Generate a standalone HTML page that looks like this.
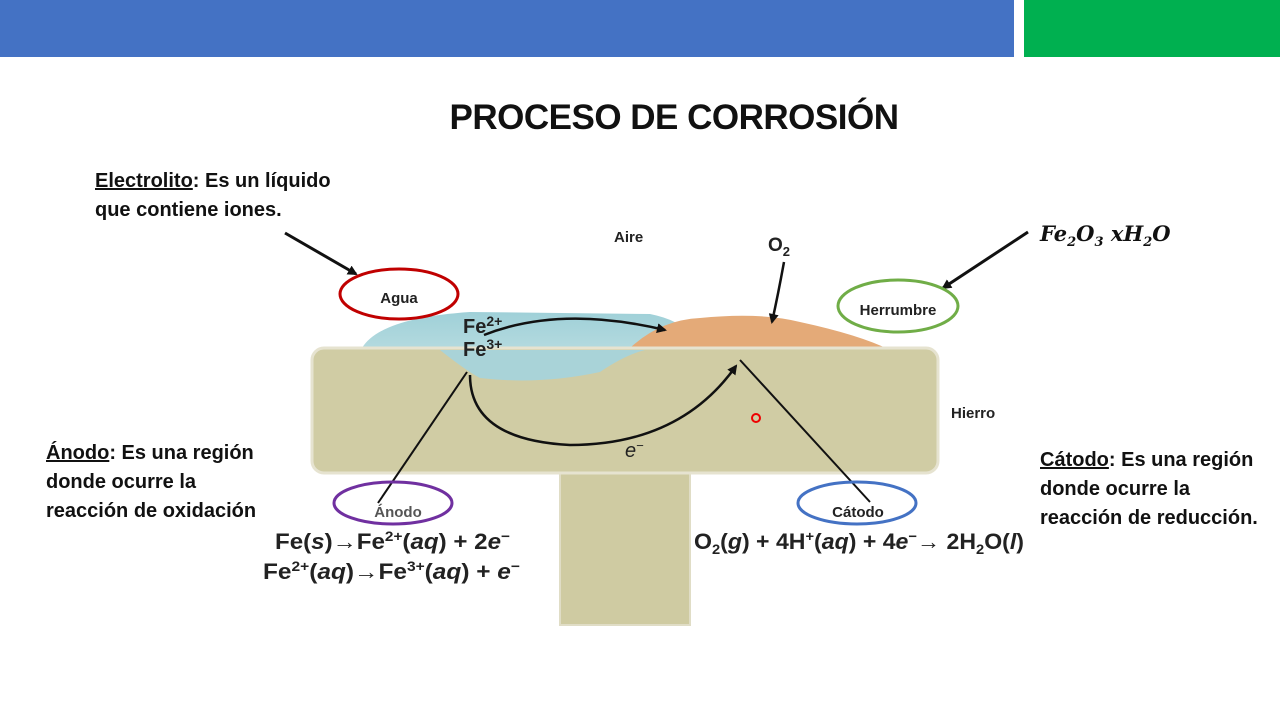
<!DOCTYPE html>
<html><head><meta charset="utf-8"><style>
body{margin:0;width:1280px;height:720px;background:#fff;overflow:hidden;position:relative;font-family:"Liberation Sans",sans-serif}
.t{position:absolute;font-weight:bold;color:#111}
</style></head><body>
<div style="position:absolute;left:0;top:0;width:1014px;height:57px;background:#4472C4"></div>
<div style="position:absolute;left:1024px;top:0;width:256px;height:57px;background:#00B050"></div>
<div class="t" style="left:0;width:1348px;top:98px;text-align:center;font-size:35px;letter-spacing:-0.5px">PROCESO DE CORROSIÓN</div>
<div class="t" style="left:95px;top:167px;font-size:20px;line-height:29px"><u>Electrolito</u>: Es un líquido<br>que contiene iones.</div>
<div class="t" style="left:46px;top:439px;font-size:20px;line-height:29px"><u>Ánodo</u>: Es una región<br>donde ocurre la<br>reacción de oxidación</div>
<div class="t" style="left:1040px;top:446px;font-size:20px;line-height:29px"><u>Cátodo</u>: Es una región<br>donde ocurre la<br>reacción de reducción.</div>
<div class="t" style="left:1040px;top:221px;font-size:21px;font-family:'DejaVu Serif',serif;font-style:italic">Fe<sub style="font-size:13px">2</sub>O<sub style="font-size:13px">3</sub> xH<sub style="font-size:13px">2</sub>O</div>
<svg width="1280" height="720" style="position:absolute;left:0;top:0" font-family="Liberation Sans, sans-serif">
<defs>
<marker id="a" markerWidth="10" markerHeight="10" refX="8" refY="5" orient="auto" markerUnits="userSpaceOnUse" viewBox="0 0 10 10"><path d="M0,0 L10,5 L0,10 z" fill="#111"/></marker>
<linearGradient id="w" x1="0" y1="0" x2="0" y2="1"><stop offset="0" stop-color="#9fd0d8"/><stop offset="1" stop-color="#c4e2e4"/></linearGradient>
</defs>
<rect x="560" y="460" width="130" height="165" fill="#cfcba2" stroke="#e0ddc6" stroke-width="2"/>
<path d="M362,348 Q380,318 470,312 L650,314 Q680,320 690,335 L655,360 Q600,380 520,378 Q450,370 362,348 z" fill="url(#w)"/>
<path d="M630,348 Q660,320 700,318 Q760,312 800,322 Q860,335 890,350 z" fill="#e4aa78"/>
<rect x="312" y="348" width="626" height="125" rx="12" fill="#d0ccA4" stroke="#e6e3d0" stroke-width="3"/>
<path d="M440,350 Q465,370 480,378 Q540,385 600,372 Q625,355 645,350 L440,350 z" fill="#a9d3d8"/>
<text x="614" y="242" font-size="15" font-weight="bold" fill="#222">Aire</text>
<text x="768" y="251" font-size="19" font-weight="bold" fill="#222">O<tspan font-size="13" dy="5">2</tspan></text>
<text x="951" y="418" font-size="15" font-weight="bold" fill="#222">Hierro</text>
<text x="463" y="333" font-size="20" font-weight="bold" fill="#222">Fe<tspan font-size="14" dy="-7">2+</tspan></text>
<text x="463" y="356" font-size="20" font-weight="bold" fill="#222">Fe<tspan font-size="14" dy="-7">3+</tspan></text>
<text x="625" y="457" font-size="20" font-style="italic" fill="#222">e<tspan font-size="13" dy="-7">−</tspan></text>
<path d="M484,335 Q560,305 665,330" fill="none" stroke="#111" stroke-width="2.5" marker-end="url(#a)"/>
<path d="M784,262 Q778,295 772,322" fill="none" stroke="#111" stroke-width="2.5" marker-end="url(#a)"/>
<path d="M470,375 Q470,440 570,445 Q680,445 736,366" fill="none" stroke="#111" stroke-width="2.5" marker-end="url(#a)"/>
<line x1="467" y1="372" x2="378" y2="503" stroke="#111" stroke-width="2"/>
<line x1="740" y1="360" x2="870" y2="502" stroke="#111" stroke-width="2"/>
<line x1="285" y1="233" x2="356" y2="274" stroke="#111" stroke-width="3" marker-end="url(#a)"/>
<line x1="1028" y1="232" x2="943" y2="288" stroke="#111" stroke-width="3" marker-end="url(#a)"/>
<ellipse cx="399" cy="294" rx="59" ry="25" fill="none" stroke="#c00000" stroke-width="3"/>
<text x="399" y="303" font-size="15" font-weight="bold" text-anchor="middle" fill="#222">Agua</text>
<ellipse cx="898" cy="306" rx="60" ry="26" fill="none" stroke="#70ad47" stroke-width="3"/>
<text x="898" y="315" font-size="15" font-weight="bold" text-anchor="middle" fill="#222">Herrumbre</text>
<ellipse cx="393" cy="503" rx="59" ry="21" fill="none" stroke="#7030a0" stroke-width="3"/>
<text x="398" y="517" font-size="15" font-weight="bold" text-anchor="middle" fill="#555">Ánodo</text>
<ellipse cx="857" cy="503" rx="59" ry="21" fill="none" stroke="#4472c4" stroke-width="3"/>
<text x="858" y="517" font-size="15" font-weight="bold" text-anchor="middle" fill="#222">Cátodo</text>
<circle cx="756" cy="418" r="4" fill="none" stroke="#e00" stroke-width="2"/>
<text x="275" y="549" font-size="22" font-weight="bold" fill="#222" textLength="235" lengthAdjust="spacingAndGlyphs">Fe(<tspan font-style="italic">s</tspan>)→Fe<tspan font-size="14" dy="-8">2+</tspan><tspan dy="8">(</tspan><tspan font-style="italic">aq</tspan>) + 2<tspan font-style="italic">e</tspan><tspan font-size="14" dy="-8">−</tspan></text>
<text x="263" y="579" font-size="22" font-weight="bold" fill="#222" textLength="257" lengthAdjust="spacingAndGlyphs">Fe<tspan font-size="14" dy="-8">2+</tspan><tspan dy="8">(</tspan><tspan font-style="italic">aq</tspan>)→Fe<tspan font-size="14" dy="-8">3+</tspan><tspan dy="8">(</tspan><tspan font-style="italic">aq</tspan>) + <tspan font-style="italic">e</tspan><tspan font-size="14" dy="-8">−</tspan></text>
<text x="694" y="549" font-size="22" font-weight="bold" fill="#222" textLength="330" lengthAdjust="spacingAndGlyphs">O<tspan font-size="14" dy="5">2</tspan><tspan dy="-5">(</tspan><tspan font-style="italic">g</tspan>) + 4H<tspan font-size="14" dy="-8">+</tspan><tspan dy="8">(</tspan><tspan font-style="italic">aq</tspan>) + 4<tspan font-style="italic">e</tspan><tspan font-size="14" dy="-8">−</tspan><tspan dy="8">→ 2H</tspan><tspan font-size="14" dy="5">2</tspan><tspan dy="-5">O(</tspan><tspan font-style="italic">l</tspan>)</text>
</svg>
</body></html>
